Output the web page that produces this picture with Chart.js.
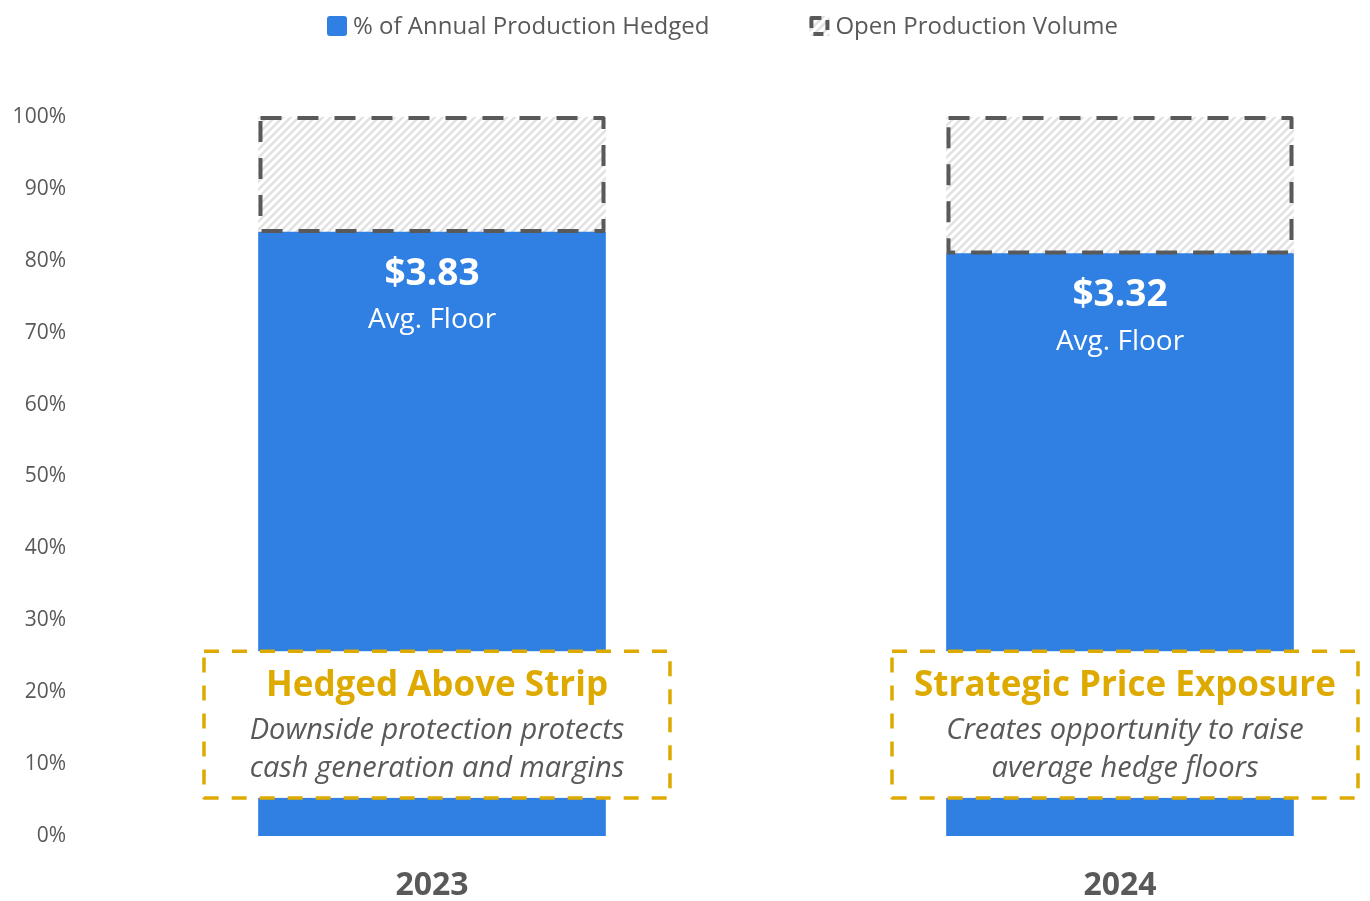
<!DOCTYPE html>
<html>
<head>
<meta charset="utf-8">
<title>Hedge Position</title>
<script src="https://cdn.jsdelivr.net/npm/chart.js@4.4.1/dist/chart.umd.min.js"></script>
<style>
    html, body { margin: 0; padding: 0; background: #ffffff; }
    #wrap { width: 1370px; height: 901px; }
</style>
</head>
<body>
<div id="wrap"><canvas id="hedgeChart" width="1370" height="901"></canvas></div>
<script>
// Hedge position by year
const years = ['2023', '2024'];
const hedgedPct = [84, 81];
const openPct = [16, 19];
const avgFloors = ['$3.83', '$3.32'];
const calloutTitles = ['Hedged Above Strip', 'Strategic Price Exposure'];
const calloutLines = [
    ['Downside protection protects', 'cash generation and margins'],
    ['Creates opportunity to raise', 'average hedge floors']
];
const yTicks = [0, 10, 20, 30, 40, 50, 60, 70, 80, 90, 100];

const FONT = "'Open Sans', sans-serif";
const BLUE = '#2F80E2';
const GOLD = '#DEAA00';
const GREY = '#595959';

// diagonal light-grey hatch for the unhedged part
function makeHatch() {
    const c = document.createElement('canvas');
    c.width = 8;
    c.height = 8;
    const g = c.getContext('2d');
    g.fillStyle = '#ffffff';
    g.fillRect(0, 0, 8, 8);
    g.strokeStyle = '#e2e2e2';
    g.lineWidth = 2.5;
    g.beginPath();
    g.moveTo(-2, 10); g.lineTo(10, -2);
    g.moveTo(-2, 2); g.lineTo(2, -2);
    g.moveTo(6, 10); g.lineTo(10, 6);
    g.stroke();
    return g.createPattern(c, 'repeat');
}
const hatch = makeHatch();

const overlayPlugin = {
    id: 'overlay',
    afterDatasetsDraw(chart) {
        const ctx = chart.ctx;
        const hedgedMeta = chart.getDatasetMeta(0);
        const openMeta = chart.getDatasetMeta(1);

        ctx.save();
        // dashed outline round the open volume
        openMeta.data.forEach(bar => {
            const p = bar.getProps(['x', 'y', 'base', 'width'], true);
            ctx.strokeStyle = GREY;
            ctx.lineWidth = 4;
            ctx.lineJoin = 'round';
            ctx.setLineDash([21, 16]);
            ctx.strokeRect(p.x - p.width / 2 + 2, p.y + 1, p.width - 4, p.base - p.y - 2);
        });

        // average floor labels
        ctx.setLineDash([]);
        ctx.textAlign = 'center';
        ctx.textBaseline = 'middle';
        ctx.fillStyle = '#ffffff';
        hedgedMeta.data.forEach((bar, i) => {
            const p = bar.getProps(['x', 'y'], true);
            ctx.font = 'bold 37px ' + FONT;
            ctx.fillText(avgFloors[i], p.x, p.y + 42);
            ctx.font = '28px ' + FONT;
            ctx.fillText('Avg. Floor', p.x, p.y + 88);
        });

        // call-out boxes near the base
        const yScale = chart.scales.y;
        const top = yScale.getPixelForValue(25.7);
        const bottom = yScale.getPixelForValue(5.3);
        const boxes = hedgedMeta.data.map(bar => {
            const x = bar.getProps(['x'], true).x;
            return { left: x - 228, right: x + 238 };
        });
        boxes.forEach(b => {
            ctx.fillStyle = '#ffffff';
            ctx.fillRect(b.left, top, b.right - b.left, bottom - top);
            ctx.strokeStyle = GOLD;
            ctx.lineWidth = 3.5;
            ctx.setLineDash([15, 13]);
            ctx.strokeRect(b.left, top, b.right - b.left, bottom - top);
        });
        ctx.setLineDash([]);
        boxes.forEach((b, i) => {
            const cx = (b.left + b.right) / 2;
            ctx.fillStyle = GOLD;
            ctx.font = 'bold 35px ' + FONT;
            ctx.fillText(calloutTitles[i], cx, top + 35);
            ctx.fillStyle = GREY;
            ctx.font = 'italic 29px ' + FONT;
            calloutLines[i].forEach((line, j) => {
                ctx.fillText(line, cx, top + 80 + j * 38);
            });
        });
        ctx.restore();
    },
    afterDraw(chart) {
        // legend centred over the plot area
        const ctx = chart.ctx;
        const area = chart.chartArea;
        const sets = chart.data.datasets;
        const box = 20, gap = 6, itemGap = 100, cy = 26;
        ctx.save();
        ctx.font = '24px ' + FONT;
        ctx.textBaseline = 'middle';
        ctx.textAlign = 'left';
        const widths = sets.map(d => ctx.measureText(d.label).width);
        const total = widths.reduce((a, w) => a + box + gap + w, 0) + itemGap;
        let x = (area.left + area.right) / 2 - total / 2;
        sets.forEach((d, i) => {
            if (i === 0) {
                ctx.fillStyle = BLUE;
                ctx.beginPath();
                ctx.roundRect(x, cy - box / 2, box, box, 3);
                ctx.fill();
            } else {
                ctx.fillStyle = hatch;
                ctx.fillRect(x, cy - box / 2, box, box);
                ctx.strokeStyle = GREY;
                ctx.lineWidth = 4;
                ctx.lineJoin = 'round';
                ctx.setLineDash([10, 8]);
                ctx.strokeRect(x + 2, cy - box / 2 + 2, box - 4, box - 4);
                ctx.setLineDash([]);
            }
            ctx.fillStyle = GREY;
            ctx.fillText(d.label, x + box + gap, cy + 1);
            x += box + gap + widths[i] + itemGap;
        });
        ctx.restore();
    }
};

new Chart(document.getElementById('hedgeChart'), {
    type: 'bar',
    data: {
        datasets: [
            {
                label: '% of Annual Production Hedged',
                data: hedgedPct.map((v, i) => ({ x: i, y: v })),
                backgroundColor: BLUE,
                borderWidth: 0,
                barThickness: 347
            },
            {
                label: 'Open Production Volume',
                data: openPct.map((v, i) => ({ x: i, y: v })),
                backgroundColor: hatch,
                borderWidth: 0,
                barThickness: 347
            }
        ]
    },
    options: {
        responsive: false,
        animation: false,
        events: [],
        layout: {
            padding: { top: 117, right: 5, bottom: 0, left: 0 }
        },
        plugins: {
            legend: { display: false },
            tooltip: { enabled: false }
        },
        scales: {
            x: {
                type: 'linear',
                stacked: true,
                offset: false,
                min: -0.5116,
                max: 1.3561,
                grid: { display: false, drawTicks: false },
                border: { display: false },
                afterFit: function(scale) {
                    scale.height = 65;
                },
                afterBuildTicks: function(scale) {
                    scale.ticks = years.map((y, i) => ({ value: i }));
                },
                ticks: {
                    padding: 31,
                    maxRotation: 0,
                    color: GREY,
                    font: { size: 32, weight: 'bold', family: FONT },
                    callback: function(value) {
                        return years[value];
                    }
                }
            },
            y: {
                stacked: true,
                min: 0,
                max: 100,
                grid: { display: false, drawTicks: false },
                border: { display: false },
                afterFit: function(scale) {
                    scale.width = 80;
                },
                afterBuildTicks: function(scale) {
                    scale.ticks = yTicks.map(v => ({ value: v }));
                },
                ticks: {
                    padding: 14,
                    color: GREY,
                    font: { size: 21, family: FONT },
                    callback: function(value) {
                        return value + '%';
                    }
                }
            }
        }
    },
    plugins: [overlayPlugin]
});
</script>
</body>
</html>
